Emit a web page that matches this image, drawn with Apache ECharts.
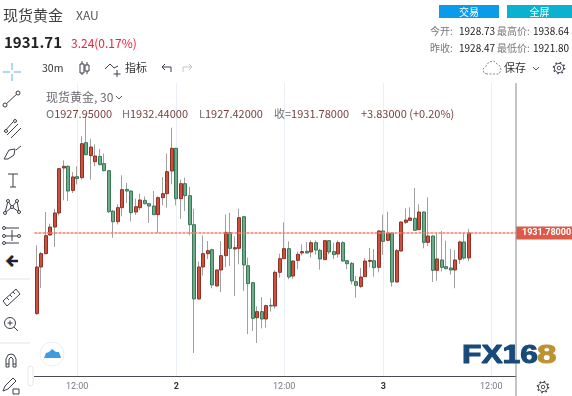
<!DOCTYPE html>
<html>
<head>
<meta charset="utf-8">
<title>现货黄金</title>
<script src="https://cdn.jsdelivr.net/npm/echarts@6/dist/echarts.min.js"></script>
<style>
html, body { margin: 0; padding: 0; background: #fff; }
#main { width: 572px; height: 396px; }
</style>
</head>
<body>
<div id="main"></div>
<script>
var opens = [1919.37,1926.55,1928.60,1931.47,1932.70,1934.86,1941.78,1942.04,1938.34,1940.45,1940.29,1945.68,1943.68,1942.75,1943.57,1942.45,1941.37,1935.16,1933.52,1935.68,1938.50,1938.24,1935.01,1935.68,1936.81,1936.29,1935.93,1934.60,1937.22,1937.83,1941.32,1944.81,1937.06,1939.37,1937.52,1933.06,1921.63,1926.55,1928.60,1929.22,1923.63,1926.09,1928.29,1931.83,1929.32,1929.42,1934.29,1926.75,1924.14,1918.75,1919.68,1918.55,1920.65,1920.55,1925.73,1927.83,1929.37,1925.16,1927.57,1928.70,1928.96,1928.86,1930.29,1929.11,1927.68,1930.60,1928.91,1928.55,1930.29,1927.52,1927.11,1924.29,1923.57,1925.06,1927.42,1927.52,1926.50,1932.09,1930.65,1931.78,1924.24,1929.01,1933.42,1933.73,1934.04,1932.29,1935.01,1930.34,1931.32,1926.04,1927.63,1926.60,1926.40,1926.09,1927.73,1930.40,1927.95];
var closes = [1926.55,1928.60,1931.37,1932.70,1934.86,1941.68,1942.04,1938.24,1940.40,1940.14,1945.52,1943.83,1945.01,1943.63,1942.29,1941.37,1935.06,1933.52,1935.68,1938.45,1938.24,1934.91,1935.83,1936.86,1936.29,1935.93,1934.60,1937.22,1937.83,1941.22,1944.81,1937.06,1939.37,1937.52,1933.06,1921.63,1926.55,1928.60,1929.06,1923.78,1926.09,1928.29,1931.88,1929.42,1929.52,1934.14,1926.86,1923.99,1918.65,1919.68,1918.55,1920.60,1920.55,1925.73,1927.83,1929.37,1925.01,1927.47,1928.50,1928.91,1928.70,1930.29,1929.16,1927.78,1930.60,1928.86,1928.45,1930.29,1927.47,1927.06,1924.40,1923.73,1925.01,1927.47,1927.57,1926.45,1932.09,1930.50,1931.78,1924.24,1929.06,1933.47,1933.78,1934.09,1932.19,1935.01,1930.34,1931.32,1926.04,1927.78,1926.50,1926.29,1926.09,1927.63,1930.40,1927.93,1931.78];
var lows = [1919.20,1923.32,1928.50,1931.42,1929.63,1934.50,1936.81,1936.70,1937.93,1939.27,1939.99,1943.73,1939.99,1942.04,1942.19,1941.27,1934.86,1931.06,1933.11,1934.34,1936.40,1933.57,1934.55,1935.27,1936.19,1933.32,1934.55,1931.78,1936.04,1935.68,1939.27,1936.04,1933.93,1935.16,1931.42,1913.32,1921.53,1925.22,1927.78,1923.27,1923.58,1922.70,1926.55,1926.70,1922.09,1926.96,1922.86,1916.24,1916.70,1914.86,1917.11,1917.22,1919.68,1920.14,1924.91,1927.78,1924.65,1924.75,1926.24,1928.34,1928.65,1927.99,1928.45,1926.14,1927.63,1928.50,1927.78,1927.99,1927.37,1926.24,1923.88,1921.83,1923.32,1925.01,1926.50,1925.06,1925.73,1928.40,1930.50,1923.52,1924.19,1928.96,1933.16,1933.63,1932.14,1932.24,1929.42,1929.78,1924.24,1924.45,1925.88,1926.19,1925.37,1923.27,1927.01,1927.68,1927.42];
var highs = [1929.88,1928.86,1935.01,1933.22,1935.52,1941.75,1942.96,1942.19,1941.16,1942.04,1946.65,1949.88,1946.29,1945.42,1944.75,1943.99,1941.42,1935.27,1936.19,1940.65,1939.47,1938.34,1937.06,1937.83,1937.42,1936.40,1938.24,1937.42,1940.40,1943.99,1947.99,1944.91,1939.99,1940.29,1938.86,1935.52,1927.37,1931.42,1930.55,1929.37,1926.14,1930.55,1934.60,1934.91,1931.27,1935.52,1934.34,1927.99,1924.19,1920.50,1921.93,1920.75,1921.73,1926.04,1928.60,1933.42,1930.50,1927.57,1928.91,1930.04,1930.40,1930.65,1930.65,1929.37,1930.65,1930.65,1930.29,1930.65,1930.50,1927.57,1927.32,1925.16,1926.40,1927.93,1929.47,1929.32,1932.24,1934.60,1935.06,1931.88,1929.32,1933.52,1935.57,1935.73,1938.70,1936.19,1935.11,1937.27,1931.42,1931.63,1932.09,1930.60,1929.32,1929.16,1930.60,1931.83,1932.44];

var slotCount = 107;
var tickSlots = [9, 31, 55, 77, 101];
var tickLabels = ['12:00', '2', '12:00', '3', '12:00'];
var lastClose = 1931.78;

var categories = [];
for (var s = 0; s < slotCount; s++) {
    var at = tickSlots.indexOf(s);
    categories.push(at >= 0 ? tickLabels[at] : String(s));
}
function isTick(index) {
    return tickSlots.indexOf(index) >= 0;
}

var wickData = [];
var bodyData = [];
for (var i = 0; i < opens.length; i++) {
    wickData.push([opens[i], closes[i], lows[i], highs[i]]);
    bodyData.push([opens[i], closes[i], Math.min(opens[i], closes[i]), Math.max(opens[i], closes[i])]);
}

var CJK = '"Noto Sans CJK SC","Noto Sans",sans-serif';

// small helpers for the page furniture round the chart
function txt(x, y, text, size, color, extra) {
    var style = { text: text, x: x, y: y, fill: color, font: (extra && extra.weight ? extra.weight + ' ' : '') + size + 'px ' + CJK, textVerticalAlign: 'middle', textAlign: extra && extra.align || 'left' };
    if (extra && extra.rich) style.rich = extra.rich;
    return { type: 'text', z: 50, silent: true, style: style };
}
function ln(x1, y1, x2, y2, color, w) {
    return { type: 'line', z: 50, silent: true, shape: { x1: x1, y1: y1, x2: x2, y2: y2 }, style: { stroke: color, lineWidth: w || 1 } };
}
function poly(points, color, w, dash) {
    return { type: 'polyline', z: 50, silent: true, shape: { points: points }, style: { stroke: color, lineWidth: w || 1, fill: 'none', lineDash: dash || null } };
}
function ring(x, y, r, color, w, dash) {
    return { type: 'circle', z: 50, silent: true, shape: { cx: x, cy: y, r: r }, style: { stroke: color, lineWidth: w || 1, fill: '#fff', lineDash: dash || null } };
}
function box(x, y, w, h, fill, stroke, r) {
    return { type: 'rect', z: 50, silent: true, shape: { x: x, y: y, width: w, height: h, r: r || 0 }, style: { fill: fill, stroke: stroke || null, lineWidth: 1 } };
}
function gear(x, y, color) {
    return [ring(x, y, 5.6, color, 1.4, [1.6, 2.8]), ring(x, y, 4.6, color, 0.9), ring(x, y, 1.8, color, 0.9)];
}

var icon = '#3c3f4a';
var legendRich = {
    g: { fill: '#6f7079', font: '11px ' + CJK },
    v: { fill: '#74433f', font: '11px ' + CJK }
};

var furniture = [
    txt(3, 15, '现货黄金', 15, '#3f3f3f'),
    txt(76, 15, 'XAU', 12, '#555'),
    txt(4, 42, '1931.71', 15, '#222', { weight: 'bold' }),
    txt(71, 43, '3.24(0.17%)', 12, '#f0213c'),

    box(439, 5, 60, 13, '#0b9be9'),
    txt(469, 12, '交易', 10, '#fff', { align: 'center' }),
    box(507, 5, 65, 13, '#0bb2cf'),
    txt(539.5, 12, '全屏', 10, '#fff', { align: 'center' }),

    txt(430, 31, '今开:', 10, '#777'),
    txt(459, 31, '1928.73', 10, '#222'),
    txt(497, 31, '最高价:', 10, '#777'),
    txt(533, 31, '1938.64', 10, '#222'),
    txt(430, 48, '昨收:', 10, '#777'),
    txt(459, 48, '1928.47', 10, '#222'),
    txt(497, 48, '最低价:', 10, '#777'),
    txt(533, 48, '1921.80', 10, '#222'),

    // top toolbar
    ln(3, 72, 10, 72, '#8fcdf2', 1.5), ln(14, 72, 21, 72, '#8fcdf2', 1.5),
    ln(12, 63, 12, 70, '#8fcdf2', 1.5), ln(12, 74, 12, 81, '#8fcdf2', 1.5),
    txt(42, 68, '30m', 10.5, '#333'),
    ln(82, 61, 82, 75, icon), box(80, 64, 4, 9, '#fff', icon),
    ln(87, 62, 87, 74, icon), box(85, 65, 4, 6, '#fff', icon),
    poly([[105, 69], [110, 64], [114, 68], [118, 66]], icon),
    ln(117, 70, 117, 77, icon), ln(113.5, 74, 120.5, 74, icon),
    txt(125, 68, '指标', 11, '#333'),
    poly([[171, 72], [171, 67], [162, 67]], icon), poly([[165, 64], [162, 67], [165, 70]], icon),
    poly([[183, 72], [183, 67], [192, 67]], '#c4c6cc'), poly([[189, 64], [192, 67], [189, 70]], '#c4c6cc'),

    poly([[487, 74], [484, 73], [483, 69], [486, 66], [489, 62], [494, 61], [497, 64], [500, 66], [501, 70], [499, 74], [487, 74]], '#8a8a8a', 1, [2, 1.5]),
    txt(504, 68, '保存', 11, '#333'),
    poly([[533, 67], [536, 70], [539, 67]], '#555')
].concat(gear(559, 68, icon)).concat([

    // left rail tools
    ln(5, 105, 18, 93, icon), ring(5, 105, 2, icon), ring(18, 93, 2, icon),
    ln(4, 132, 13, 122, icon), ln(7, 135, 18, 124, icon), ln(11, 138, 21, 128, icon),
    ring(6, 131, 1.5, icon), ring(15, 121, 1.5, icon),
    poly([[4, 159], [9, 150], [15, 149], [14, 155], [8, 159], [4, 159]], icon),
    ln(16, 150, 21, 146, icon),
    ln(8, 174, 18, 174, icon), ln(13, 174, 13, 187, icon), ln(10, 187, 16, 187, icon),
    poly([[5, 213], [8, 201], [12, 207], [17, 201], [19, 212], [12, 207], [5, 213]], icon),
    ring(8, 201, 1.5, icon), ring(17, 201, 1.5, icon), ring(5, 213, 1.5, icon), ring(19, 212, 1.5, icon), ring(12, 207, 1.5, icon),
    ln(5, 228, 19, 228, icon), ln(5, 236, 19, 236, icon), ln(5, 243, 19, 243, icon),
    ln(12, 230, 12, 241, icon), ring(4, 228, 1.5, icon), ring(4, 236, 1.5, icon), ring(4, 243, 1.5, icon), ring(19, 236, 1.5, icon),
    poly([[12, 256], [7, 261], [12, 266]], '#f09020', 2.5),
    poly([[13, 256], [8, 261], [13, 266]], '#15233f', 2.5), ln(9, 261, 18, 261, '#15233f', 2.5),

    ln(0, 279, 30, 279, '#e0e3eb'),
    { type: 'polygon', z: 50, silent: true, shape: { points: [[3, 301], [16, 289], [20, 294], [7, 306]] }, style: { fill: '#fff', stroke: icon, lineWidth: 1 } },
    ln(7, 298, 9, 300, icon), ln(10, 295, 12, 297, icon), ln(13, 292, 15, 294, icon),
    ring(10, 323, 5.5, icon), ln(7.5, 323, 12.5, 323, icon), ln(10, 320.5, 10, 325.5, icon), ln(14, 327, 18, 331, icon),
    ln(0, 343, 30, 343, '#e0e3eb'),
    poly([[6, 367], [6, 359], [8, 355], [11, 354], [14, 355], [16, 359], [16, 367], [13, 367], [13, 359], [11, 357], [9, 359], [9, 367], [6, 367]], icon),
    ln(6, 364, 9, 364, icon), ln(13, 364, 16, 364, icon),
    { type: 'polygon', z: 50, silent: true, shape: { points: [[3, 391], [5, 386], [13, 378], [16, 381], [8, 389]] }, style: { fill: '#fff', stroke: icon, lineWidth: 1 } },
    box(13, 389, 6, 5, '#fff', icon),
    { type: 'rect', z: 49, silent: true, shape: { x: 28, y: 366, width: 5, height: 20, r: 2.5 }, style: { fill: '#fff', stroke: '#e4e6ec', lineWidth: 1 } },

    // legend lines over the plot
    txt(46, 97, '现货黄金, 30', 12, '#6a6a72'),
    poly([[116, 96], [119, 99], [122, 96]], '#555'),
    txt(46, 113.5, '{g|O}{v|1927.95000}', 11, '#74433f', { rich: legendRich }),
    txt(122, 113.5, '{g|H}{v|1932.44000}', 11, '#74433f', { rich: legendRich }),
    txt(199, 113.5, '{g|L}{v|1927.42000}', 11, '#74433f', { rich: legendRich }),
    txt(274, 113.5, '{g|收=}{v|1931.78000}', 11, '#74433f', { rich: legendRich }),
    txt(361, 113.5, '+3.83000 (+0.20%)', 11, '#74433f'),

    // price scale border and its gear
    ln(516, 83, 516, 396, '#9a9ca3', 1.2)
]).concat(gear(543, 387, icon)).concat([

    // floating cloud button
    ring(52, 354, 12, '#eceef2', 1),
    { type: 'polygon', z: 51, silent: true, shape: { points: [[44, 358], [46, 353], [49, 352], [52, 349], [56, 352], [59, 352], [61, 358]] }, style: { fill: '#3f9ce0' } },
    poly([[46, 358], [50, 354], [53, 356], [56, 354], [59, 358]], '#fff', 1),

    // watermark
    { type: 'text', z: 52, silent: true, x: 462, y: 356, scaleX: 1.27, style: { text: 'FX16', fill: '#17497a', stroke: '#17497a', lineWidth: 1, font: 'bold 25px "Liberation Sans",sans-serif', textVerticalAlign: 'middle' } },
    { type: 'text', z: 52, silent: true, x: 537, y: 356, scaleX: 1.4, style: { text: '8', fill: '#bd9233', stroke: '#bd9233', lineWidth: 1, font: 'bold 25px "Liberation Sans",sans-serif', textVerticalAlign: 'middle' } }
]);

var myChart = echarts.init(document.getElementById('main'), null, { renderer: 'canvas' });

var option = {
    animation: false,
    backgroundColor: '#fff',
    tooltip: { show: false },
    grid: {
        left: 34.45,
        right: 56,
        top: 83,
        bottom: 19.3
    },
    xAxis: {
        type: 'category',
        data: categories,
        boundaryGap: true,
        axisLine: { lineStyle: { color: '#4a4a55', width: 1 } },
        axisTick: {
            alignWithLabel: true,
            length: 3,
            interval: function (index) { return isTick(index); },
            lineStyle: { color: '#4a4a55' }
        },
        axisLabel: {
            interval: function (index) { return isTick(index); },
            color: '#787b86',
            fontSize: 9,
            margin: 6,
            fontFamily: 'Roboto, sans-serif',
            formatter: function (value) {
                return value.length === 1 ? '{day|' + value + '}' : value;
            },
            rich: {
                day: { color: '#333', fontSize: 9, fontWeight: 'bold', fontFamily: 'Roboto, sans-serif' }
            }
        },
        splitLine: {
            show: true,
            alignWithLabel: true,
            interval: function (index) { return isTick(index); },
            lineStyle: { color: '#e9eff5', width: 1 }
        }
    },
    yAxis: {
        type: 'value',
        min: 1909.67,
        max: 1954.86,
        show: false,
        splitLine: { show: false }
    },
    graphic: furniture,
    series: [
        {
            name: 'wick',
            type: 'candlestick',
            barWidth: 1,
            data: wickData,
            silent: true,
            itemStyle: {
                color: '#a0a0a0',
                color0: '#a0a0a0',
                borderColor: '#a0a0a0',
                borderColor0: '#a0a0a0',
                borderColorDoji: '#a0a0a0',
                borderWidth: 1
            }
        },
        {
            name: 'body',
            type: 'candlestick',
            barWidth: 3.4,
            data: bodyData,
            silent: true,
            itemStyle: {
                color: '#cf4f3d',
                color0: '#6dab8b',
                borderColor: '#8e3126',
                borderColor0: '#3a7758',
                borderColorDoji: '#8e3126',
                borderWidth: 1
            }
        },
        {
            name: 'last',
            type: 'line',
            data: [],
            silent: true,
            z: 5,
            markLine: {
                silent: true,
                symbol: 'none',
                animation: false,
                lineStyle: { color: '#f47c6c', type: [3, 1], width: 1.6, opacity: 1 },
                label: {
                    position: 'end',
                    distance: 0,
                    formatter: lastClose.toFixed(5),
                    color: '#fff',
                    fontSize: 9,
                    fontWeight: 'bold',
                    fontFamily: 'Roboto, sans-serif',
                    backgroundColor: '#dc5a47',
                    padding: [2, 6, 2, 6]
                },
                data: [{ yAxis: lastClose }]
            }
        }
    ]
};
myChart.setOption(option);
</script>
</body>
</html>
